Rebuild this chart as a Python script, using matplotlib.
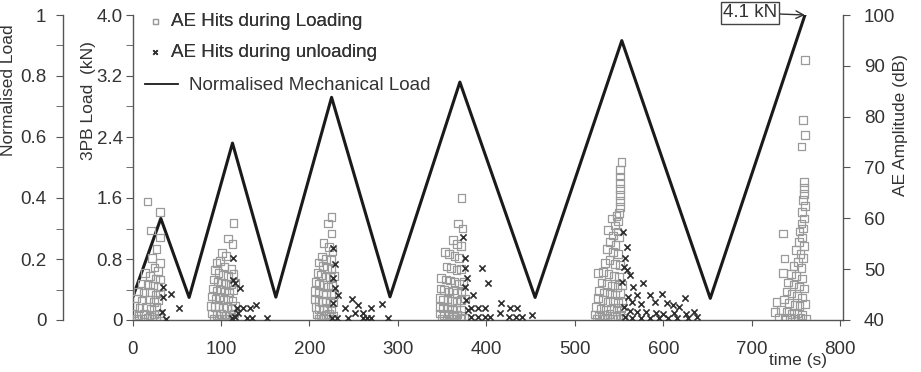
import matplotlib.pyplot as plt
import numpy as np

plt.rcParams['font.family'] = ['Liberation Sans', 'DejaVu Sans']
plt.rcParams['font.size'] = 13.5
plt.rcParams['text.color'] = '#333333'
plt.rcParams['xtick.color'] = '#555555'
plt.rcParams['ytick.color'] = '#555555'
plt.rcParams['xtick.labelcolor'] = '#333333'
plt.rcParams['ytick.labelcolor'] = '#333333'

# normalised mechanical load (triangular cycles)
load_t = [0, 32, 64, 113, 162, 225, 291, 370, 455, 553, 653, 760]
load_norm = [0.072, 0.333, 0.074, 0.58, 0.075, 0.73, 0.076, 0.78, 0.074, 0.916, 0.071, 1.0]

# AE hits during loading (time s, amplitude dB), per cycle
loading_c1 = [(17, 63.3), (31, 61.2), (21, 57.6), (31, 56.2), (27, 54), (22, 52.2), (31, 51.2), (25, 50.3),
              (29, 49.6), (14, 49.2), (20, 48.6), (26, 48.2), (31, 48), (10, 47.2), (17, 47), (23, 46.8),
              (29, 46.5), (6, 45.6), (13, 45.4), (20, 45.5), (26, 45), (31, 45.2), (4, 44.2), (11, 43.8),
              (18, 44), (24, 43.6), (29, 43.9), (2, 42.8), (8, 42.4), (15, 42.6), (21, 42.2), (27, 42.5),
              (1, 41.3), (7, 41), (13, 41.2), (19, 40.9), (24, 41.1), (30, 41.3), (5, 40.3), (11, 40.2),
              (17, 40.4), (22, 40.2), (27, 40.3), (31, 40.5)]
loading_c2 = [(114, 59.1), (108, 56), (113, 55), (101, 53.2), (106, 52.6), (95, 51.2), (99, 51.6), (104, 50.5),
              (112, 50), (93, 49.8), (97, 49.3), (102, 48.8), (108, 48.6), (114, 49), (92, 48), (96, 47.6),
              (100, 47.4), (105, 47.2), (111, 47), (116, 47.4), (91, 46.2), (95, 45.8), (99, 46), (104, 45.6),
              (109, 45.4), (114, 45.9), (90, 44.6), (94, 44.2), (98, 44.4), (103, 44), (108, 44.3), (113, 43.8),
              (89, 42.8), (93, 42.5), (97, 42.7), (102, 42.4), (107, 42.6), (112, 42.2), (116, 42.8), (90, 41.3),
              (95, 41), (100, 41.2), (105, 40.9), (110, 41.1), (115, 41.3), (92, 40.3), (98, 40.2), (104, 40.3),
              (109, 40.2), (114, 40.4)]
loading_c3 = [(225, 60.3), (221, 59), (225, 57), (216, 55.1), (222, 54.4), (226, 53.6), (214, 52.5), (219, 52),
              (224, 51.8), (210, 51.3), (215, 50.6), (220, 50.2), (225, 50), (209, 49.2), (213, 48.8), (218, 48.5),
              (223, 48.4), (228, 48.7), (207, 47.5), (211, 47.1), (216, 46.9), (221, 46.6), (226, 46.8), (206, 45.7),
              (210, 45.4), (215, 45.2), (219, 45), (224, 45.3), (228, 45), (206, 44), (210, 43.7), (214, 43.5),
              (218, 43.8), (223, 43.4), (227, 43.6), (207, 42.5), (211, 42.2), (216, 42), (220, 42.3), (225, 42.1),
              (208, 41.1), (213, 40.9), (218, 41), (222, 41.2), (227, 40.8), (210, 40.3), (215, 40.2), (221, 40.3),
              (226, 40.2)]
loading_c4 = [(372, 64), (368, 59), (373, 58), (362.5, 55.7), (367, 55), (371, 54.5), (353, 53.4), (358, 53),
              (364, 52.6), (369, 52.2), (355, 50.5), (360, 50.2), (366, 49.8), (371, 50), (349, 48.3), (354, 48),
              (359, 47.8), (364, 47.5), (369, 47.2), (374, 47.6), (348, 46.2), (352, 45.9), (357, 45.6), (362, 45.8),
              (367, 45.3), (372, 45.6), (347.5, 44.3), (351, 43.9), (356, 44), (361, 43.7), (366, 43.5), (371, 43.9),
              (376, 44.2), (347, 42.6), (351, 42.3), (356, 42.5), (361, 42.1), (366, 42.4), (371, 42), (347.5, 41.3),
              (352, 41), (357, 41.2), (362, 40.9), (367, 41.1), (372, 40.8), (350, 40.3), (355, 40.2), (360, 40.3),
              (365, 40.2), (370, 40.3), (375, 40.4)]
loading_c5 = [(552.7, 71.1), (551, 69.5), (551, 68.2), (551, 67), (551, 65.8), (551, 64.6), (551, 63.4), (551, 62.2),
              (550, 61), (547, 60.5), (541.5, 60), (549, 59.4), (545, 58.6), (537.6, 57.7), (548, 57.4), (543, 56.6),
              (550, 56.2), (540, 55.4), (546, 54.8), (536, 54), (543, 53.4), (549, 53), (534, 51.2), (539, 51.8),
              (545, 51), (551, 50.8), (526, 49.2), (532, 49.5), (538, 49), (544, 48.7), (550, 48.4), (530, 47.4),
              (536, 47.1), (542, 46.8), (548, 46.5), (553, 46.9), (527, 45.7), (533, 45.4), (539, 45.2), (545, 45),
              (551, 45.3), (526, 44.3), (531, 43.9), (537, 43.6), (543, 43.8), (549, 43.4), (554, 43.6), (524, 42.5),
              (529, 42.2), (535, 42), (541, 42.3), (547, 42.1), (552, 42.4), (522, 41.1), (527, 40.9), (533, 41),
              (539, 41.2), (545, 40.8), (551, 41), (525, 40.3), (531, 40.2), (537, 40.3), (543, 40.2), (549, 40.3),
              (555, 40.4)]
loading_c6 = [(760, 91.1), (758, 79.3), (760, 76.4), (756, 74.1), (759, 67.2), (759, 66), (759, 64.8), (758, 63.6),
              (760, 62.4), (757, 61.2), (759, 60), (756, 59), (758, 58), (754, 57.4), (735, 57), (757, 56.2),
              (753, 55.4), (759, 54.6), (750, 53.8), (755, 53), (737, 52.1), (758, 52.2), (752, 51.4), (747, 50.6),
              (756, 50.2), (735, 49.2), (744, 49), (750, 48.6), (757, 48.2), (741, 47.4), (747, 47), (753, 46.6),
              (759, 46.2), (739, 45.6), (745, 45.2), (751, 44.8), (757, 44.4), (728, 43.6), (736, 44), (742, 43.4),
              (748, 43), (754, 42.8), (760, 43.2), (726, 41.6), (733, 42), (739, 41.6), (745, 41.2), (751, 41.4),
              (757, 41), (730, 40.4), (737, 40.3), (743, 40.5), (749, 40.3), (755, 40.4), (761, 40.3)]

# AE hits during unloading
unloading_c1 = [(34.5, 44.5), (44, 45.2), (53, 42.3), (33.5, 41.5), (37.5, 40.2), (35, 46.5)]
unloading_c2 = [(114, 52.1), (116, 47.2), (121, 46.2), (114, 47.8), (118, 42.3), (125, 42.3), (133, 42.3),
                (140, 43), (129, 40.3), (134.7, 40.3), (151.6, 40.3), (119.5, 41.3), (116, 40.5), (112, 40.4)]
unloading_c3 = [(227, 54.1), (227, 48.2), (229, 46.2), (232.5, 44.9), (227, 43.3), (247.7, 44.1), (255, 43),
                (270, 42.3), (281.5, 43.1), (240, 42.3), (251.4, 41.3), (261, 41.3), (230.7, 40.3), (244, 40.3),
                (261, 40.3), (264.6, 40.3), (270, 40.3), (289, 40.3), (225, 40.3), (229, 51)]
unloading_c4 = [(374, 56.4), (375.7, 52.1), (375.7, 50.2), (377.6, 48.2), (375.7, 46.4), (394.6, 50.2), (402, 47.2),
                (385, 44.9), (383, 42.3), (390.7, 42.3), (398, 42.3), (417, 43.3), (426.6, 42.3), (434, 42.3),
                (415, 41.3), (451, 41), (383, 40.6), (390, 40.5), (398, 40.5), (404, 40.6), (426, 40.5), (433, 40.5),
                (440, 40.6), (377, 44), (379, 42)]
unloading_c5 = [(554.6, 57.4), (558.4, 54.4), (556.5, 52.1), (558.4, 49.8), (562, 48.9), (577, 47.2), (598, 45.2),
                (624, 44.3), (611, 43), (585, 44.9), (566, 46.5), (570, 45), (560, 44.5), (565, 43.5), (575, 43.2),
                (590, 43.5), (604, 43.3), (618, 42.6), (556, 42.5), (562, 41.8), (570, 41.5), (580, 41.6), (592, 41.4),
                (600, 41.2), (612, 41.3), (625, 41.2), (635, 41.5), (557, 40.5), (565, 40.4), (575, 40.3), (585, 40.4),
                (595, 40.3), (605, 40.4), (615, 40.3), (628, 40.4), (638, 40.5), (553, 47.5), (555, 50.5)]

loading = np.array(loading_c1 + loading_c2 + loading_c3 + loading_c4 + loading_c5 + loading_c6)
unloading = np.array(unloading_c1 + unloading_c2 + unloading_c3 + unloading_c4 + unloading_c5)

W, H = 921, 372
fig = plt.figure(figsize=(W / 100, H / 100), dpi=100)
ax = fig.add_axes([132.5 / W, 1 - 320 / H, (843 - 132.5) / W, 305 / H])
ax_kn = ax.twinx()
ax_db = ax.twinx()

# load line on the normalised axis
ax.plot(load_t, load_norm, color='#1a1a1a', lw=2.2, label='Normalised Mechanical Load')
ax.set_xlim(0, 803)
ax.set_ylim(0, 1)
ax.set_xticks(np.arange(0, 801, 100))
ax.set_yticks(np.arange(0, 1.01, 0.2))
ax.set_yticklabels(['0', '0.2', '0.4', '0.6', '0.8', '1'])
ax.set_yticks(np.arange(0.1, 1.0, 0.2), minor=True)
ax.spines['left'].set_position(('outward', 69.5 * 72 / 100))
ax.spines['top'].set_visible(False)
ax.spines['right'].set_visible(False)
ax.tick_params(axis='x', direction='out', length=4, pad=11)
ax.tick_params(axis='y', which='both', direction='out', length=5, pad=7)

# 3PB load axis on the inner left
ax_kn.set_ylim(0, 4)
ax_kn.yaxis.tick_left()
ax_kn.set_yticks([0, 0.8, 1.6, 2.4, 3.2, 4.0])
ax_kn.set_yticklabels(['0', '0.8', '1.6', '2.4', '3.2', '4.0'])
ax_kn.set_yticks(np.arange(0.4, 4.0, 0.8), minor=True)
ax_kn.tick_params(axis='y', which='both', direction='out', length=5, pad=2)
for s in ['top', 'bottom', 'right']:
    ax_kn.spines[s].set_visible(False)

# AE amplitude axis on the right
ax_db.scatter(loading[:, 0], loading[:, 1], marker='s', s=30, facecolors='none',
              edgecolors='#9a9a9a', linewidths=0.9, label='AE Hits during Loading', zorder=2)
ax_db.scatter(unloading[:, 0], unloading[:, 1], marker='x', s=20, color='#2f2f2f',
              linewidths=1.2, label='AE Hits during unloading', zorder=3)
ax_db.set_ylim(40, 100)
ax_db.set_yticks(np.arange(40, 101, 10))
ax_db.tick_params(axis='y', direction='out', length=5, pad=10)
for s in ['top', 'bottom', 'left']:
    ax_db.spines[s].set_visible(False)

for a in (ax, ax_kn, ax_db):
    for s in a.spines.values():
        s.set_color('#555555')
        s.set_linewidth(1.0)

ax.annotate('4.1 kN', xy=(760, 1.0), xytext=(698, 1.007), ha='center', va='center',
            bbox=dict(boxstyle='square,pad=0.12', fc='white', ec='#444444', lw=1),
            arrowprops=dict(arrowstyle='->', color='#333333', lw=1, shrinkA=0, shrinkB=0),
            annotation_clip=False)

# legends
h_s, l_s = ax_db.get_legend_handles_labels()
leg1 = fig.legend(h_s, l_s, loc='upper left', bbox_to_anchor=(146 / W, 1 - 13 / H), frameon=False,
                  handlelength=1.0, handletextpad=0.35, labelspacing=0.72, borderpad=0, borderaxespad=0,
                  markerscale=0.7, fontsize=13.5)
h_l, l_l = ax.get_legend_handles_labels()
leg2 = fig.legend(h_l, l_l, loc='upper left', bbox_to_anchor=(145 / W, 1 - 77 / H), frameon=False,
                  handlelength=1.75, handletextpad=0.6, borderpad=0, borderaxespad=0, fontsize=13.5)
leg2.get_lines()[0].set_linewidth(1.3)
fig.add_artist(leg1)

fig.text(1 / W, 1 - 90 / H, 'Normalised Load', rotation=90, ha='left', va='center', fontsize=12.5)
fig.text(88 / W, 1 - 101 / H, '3PB Load  (kN)', rotation=90, ha='center', va='center', fontsize=12.5)
fig.text(900 / W, 1 - 125 / H, 'AE Amplitude (dB)', rotation=90, ha='center', va='center', fontsize=12.5)
fig.text(798 / W, 1 - 353 / H, 'time (s)', ha='center', va='top', fontsize=12.5)

fig.savefig('out.png', dpi=100)
